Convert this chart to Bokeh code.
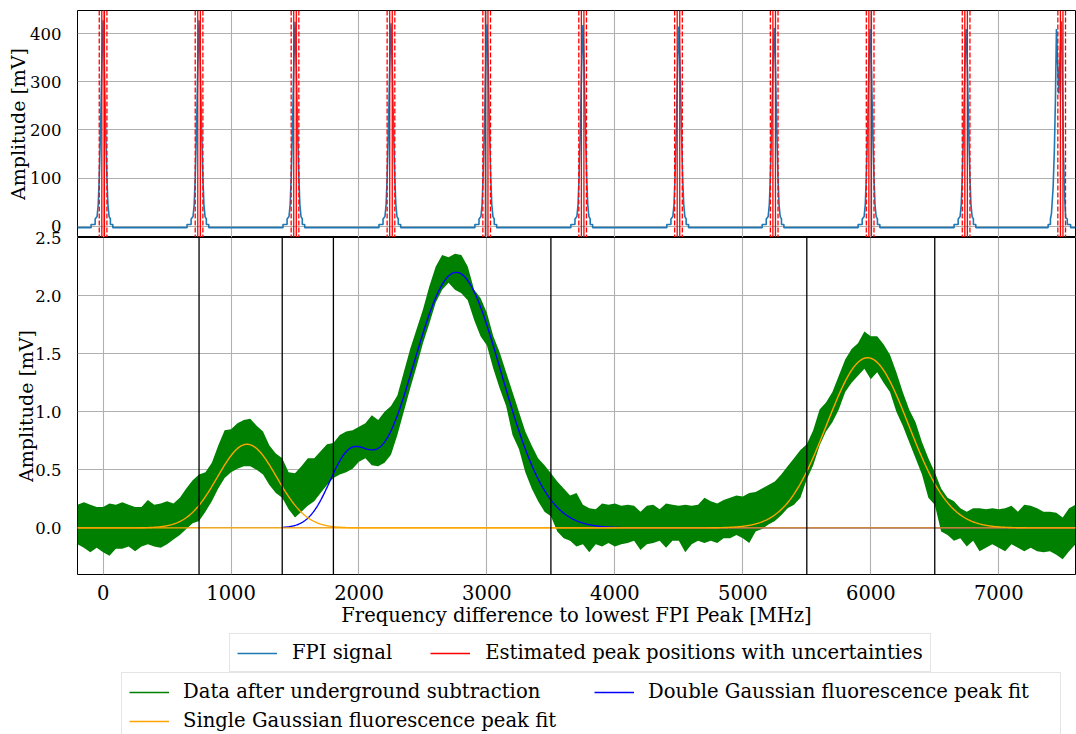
import numpy as np
from bokeh.plotting import figure
from bokeh.models import (Range1d, FixedTicker, Span, Legend, LegendItem,
                          PrintfTickFormatter)
from bokeh.layouts import column
from bokeh.embed import file_html
from bokeh.resources import INLINE

# ---------------- data ----------------
x_ticks = [0, 1000, 2000, 3000, 4000, 5000, 6000, 7000]
top_y_ticks = [0, 100, 200, 300, 400]
bottom_y_ticks = [0.0, 0.5, 1.0, 1.5, 2.0, 2.5]

# FPI signal (top panel)
fpi_baseline = -3.0
fpi_centers = [0, 750, 1500, 2250, 3000, 3750, 4500, 5245, 5995, 6745]
fpi_heights = [428, 428, 425, 422, 420, 418, 415, 412, 410, 410]
profile_offsets = [-94, -94, -62, -62, -47, -38, -30, -20, -10, 0,
                   10, 20, 30, 38, 47, 57, 57, 76, 76]
profile_left = [-3, 3.5, 3.5, 15, 20, 45, 100, 200, 330]
profile_right = [330, 200, 100, 45, 20, 15, 3.5, 3.5, -3]
last_center = 7470
last_offsets = [-84, -84, -66, -66, -58, -45, -35, -27, -19, -10, 0, 10, 20,
                28, 36, 45, 53, 66, 66, 92, 92]
last_values = [-3, 3.5, 3.5, 15, 26, 80, 160, 261, 410, 340, 276, 360, 426,
               300, 150, 60, 18, 15, 3.5, 3.5, -3]

# estimated peak positions (red lines)
peak_positions = [0, 750, 1500, 2250, 2998, 3748, 4497, 5245, 5995, 6745, 7492]
peak_inner = 10
peak_uncertainty = 30

# data after background subtraction (band)
data_freq = list(range(-200, 7601, 50))
data_upper = [
    0.20, 0.22, 0.20, 0.18, 0.18, 0.21, 0.20, 0.22, 0.20, 0.18,   # -200..250
    0.18, 0.24, 0.20, 0.21, 0.23, 0.21, 0.26, 0.34, 0.41, 0.46,   # 300..750
    0.48, 0.56, 0.71, 0.84, 0.85, 0.90, 0.93, 0.94, 0.88, 0.83,   # 800..1250
    0.71, 0.64, 0.60, 0.48, 0.47, 0.53, 0.60, 0.60, 0.66, 0.72,   # 1300..1750
    0.73, 0.80, 0.83, 0.84, 0.87, 0.90, 0.97, 0.93, 1.00, 1.05,   # 1800..2250
    1.14, 1.34, 1.54, 1.71, 1.88, 2.08, 2.25, 2.35, 2.33, 2.36,   # 2300..2750
    2.35, 2.25, 2.05, 1.98, 1.85, 1.65, 1.51, 1.34, 1.17, 1.00,   # 2800..3250
    0.83, 0.71, 0.60, 0.54, 0.47, 0.40, 0.34, 0.28, 0.30, 0.20,   # 3300..3750
    0.17, 0.16, 0.21, 0.20, 0.21, 0.19, 0.20, 0.19, 0.14, 0.19,   # 3800..4250
    0.20, 0.16, 0.21, 0.20, 0.19, 0.20, 0.19, 0.20, 0.26, 0.23,   # 4300..4750
    0.21, 0.24, 0.26, 0.28, 0.27, 0.30, 0.31, 0.34, 0.37, 0.40,   # 4800..5250
    0.46, 0.53, 0.60, 0.67, 0.72, 0.84, 1.02, 1.08, 1.17, 1.31,   # 5300..5750
    1.45, 1.54, 1.59, 1.69, 1.65, 1.65, 1.58, 1.49, 1.34, 1.17,   # 5800..6250
    1.02, 0.91, 0.74, 0.60, 0.48, 0.34, 0.26, 0.23, 0.17, 0.14,   # 6300..6750
    0.17, 0.17, 0.16, 0.17, 0.16, 0.17, 0.19, 0.14, 0.20, 0.19,   # 6800..7250
    0.17, 0.14, 0.14, 0.13, 0.09, 0.17, 0.20,                     # 7300..7600
]
data_lower = [
    -0.14, -0.17, -0.21, -0.17, -0.21, -0.24, -0.18, -0.18, -0.16, -0.20,
    -0.16, -0.14, -0.16, -0.17, -0.14, -0.10, -0.06, -0.01, 0.04, 0.06,
    0.14, 0.23, 0.34, 0.43, 0.48, 0.51, 0.53, 0.53, 0.50, 0.46,
    0.37, 0.30, 0.26, 0.16, 0.09, 0.14, 0.19, 0.23, 0.30, 0.37,
    0.43, 0.46, 0.48, 0.51, 0.57, 0.60, 0.54, 0.53, 0.56, 0.63,
    0.80, 1.00, 1.20, 1.39, 1.59, 1.76, 1.94, 2.05, 2.11, 2.05,
    2.02, 1.96, 1.79, 1.65, 1.57, 1.37, 1.20, 1.05, 0.80, 0.68,
    0.48, 0.34, 0.23, 0.14, 0.10, -0.03, -0.09, -0.11, -0.16, -0.14,
    -0.21, -0.14, -0.16, -0.13, -0.16, -0.14, -0.13, -0.11, -0.19, -0.14,
    -0.13, -0.11, -0.17, -0.11, -0.11, -0.21, -0.14, -0.11, -0.13, -0.11,
    -0.13, -0.09, -0.09, -0.06, -0.09, -0.13, -0.03, -0.01, 0.03, 0.06,
    0.11, 0.17, 0.20, 0.26, 0.42, 0.54, 0.71, 0.83, 0.91, 1.02,
    1.17, 1.25, 1.31, 1.37, 1.28, 1.34, 1.25, 1.17, 1.00, 0.88,
    0.74, 0.60, 0.46, 0.26, 0.20, -0.03, -0.06, -0.11, -0.09, -0.16,
    -0.11, -0.20, -0.17, -0.14, -0.17, -0.20, -0.14, -0.17, -0.20, -0.17,
    -0.20, -0.21, -0.20, -0.23, -0.27, -0.20, -0.14,
]

# fit parameters
single_fit_centers = [1125, 5975]
single_fit_amplitudes = [0.72, 1.465]
single_fit_sigmas = [232, 320]
double_fit_centers = [1920, 2760]
double_fit_amplitudes = [0.55, 2.2]
double_fit_sigmas = [160, 352]
double_fit_start = 1400

# boundaries of the fit regions (black lines)
region_bounds = [750, 1400, 1800, 3500, 5500, 6500]

x_min, x_max = -200, 7600
top_y_range = (-23.5, 448.4)
bottom_y_range = (-0.401, 2.5)

# ---------------- derived series ----------------
fpi_x = [x_min]
fpi_y = [fpi_baseline]
for c, h in zip(fpi_centers, fpi_heights):
    vals = profile_left + [h] + profile_right
    for off, v in zip(profile_offsets, vals):
        fpi_x.append(c + off)
        fpi_y.append(v)
for off, v in zip(last_offsets, last_values):
    fpi_x.append(last_center + off)
    fpi_y.append(v)
fpi_x.append(x_max)
fpi_y.append(fpi_baseline)

fit_x = np.linspace(x_min, x_max, 1600)


def gauss(x, a, c, s):
    return a * np.exp(-((x - c) ** 2) / (2.0 * s ** 2))


single_fits = [gauss(fit_x, a, c, s) for a, c, s in
               zip(single_fit_amplitudes, single_fit_centers, single_fit_sigmas)]
dbl_x = fit_x[fit_x >= double_fit_start]
dbl_y = sum(gauss(dbl_x, a, c, s) for a, c, s in
            zip(double_fit_amplitudes, double_fit_centers, double_fit_sigmas))

# ---------------- styling ----------------
FONT = "DejaVu Serif"
GRID = "#b0b0b0"
W = 1076
LEFT = 77
RIGHT = 1
OVER = 12

x_range = Range1d(x_min, x_max)


def style(p, yticks):
    p.outline_line_color = "black"
    p.outline_line_width = 1
    p.xgrid.ticker = FixedTicker(ticks=x_ticks)
    p.ygrid.ticker = FixedTicker(ticks=yticks)
    p.grid.grid_line_color = GRID
    p.grid.grid_line_width = 1.1
    p.yaxis.ticker = FixedTicker(ticks=yticks)
    p.yaxis.axis_line_color = None
    p.yaxis.major_tick_line_color = None
    p.yaxis.minor_tick_line_color = None
    p.yaxis.major_label_text_font = FONT
    p.yaxis.major_label_text_font_size = "16.5px"
    p.yaxis.major_label_text_color = "black"
    p.yaxis.major_label_standoff = 10
    p.yaxis.axis_label = "Amplitude [mV]"
    p.yaxis.axis_label_text_font = FONT
    p.yaxis.axis_label_text_font_size = "19px"
    p.yaxis.axis_label_text_font_style = "normal"
    p.yaxis.axis_label_text_color = "black"


# ---- top panel ----
top = figure(width=W, height=237, x_range=x_range,
             y_range=Range1d(*top_y_range), output_backend="svg",
             toolbar_location=None, min_border_left=LEFT,
             min_border_right=RIGHT, min_border_top=10, min_border_bottom=0)
style(top, top_y_ticks)
top.xaxis.visible = False
top.yaxis.axis_label_standoff = -2
r_fpi = top.line(fpi_x, fpi_y, line_color="#1f77b4", line_width=1.6)
for pos in peak_positions:
    for off in (-peak_inner, peak_inner):
        top.add_layout(Span(location=pos + off, dimension="height",
                            line_color="red", line_width=1.3))
    for off in (-peak_uncertainty, peak_uncertainty):
        top.add_layout(Span(location=pos + off, dimension="height",
                            line_color="red", line_width=1.3,
                            line_dash="5 2"))

# ---- bottom panel ----
bot = figure(width=W, height=392 + OVER, x_range=x_range,
             y_range=Range1d(*bottom_y_range), output_backend="svg",
             toolbar_location=None, min_border_left=LEFT,
             min_border_right=RIGHT, min_border_top=OVER, min_border_bottom=52,
             margin=(-OVER, 0, 0, 0))
bot.border_fill_color = None
style(bot, bottom_y_ticks)
bot.yaxis.formatter = PrintfTickFormatter(format="%.1f")
bot.yaxis.axis_label_standoff = -5
bot.xaxis.ticker = FixedTicker(ticks=x_ticks)
bot.xaxis.axis_line_color = None
bot.xaxis.major_tick_line_color = None
bot.xaxis.minor_tick_line_color = None
bot.xaxis.major_label_text_font = FONT
bot.xaxis.major_label_text_font_size = "19.5px"
bot.xaxis.major_label_text_color = "black"
bot.xaxis.major_label_standoff = 4
bot.xaxis.axis_label = "Frequency difference to lowest FPI Peak [MHz]"
bot.xaxis.axis_label_text_font = FONT
bot.xaxis.axis_label_text_font_size = "19.5px"
bot.xaxis.axis_label_text_font_style = "normal"
bot.xaxis.axis_label_text_color = "black"
bot.xaxis.axis_label_standoff = 1

bot.varea(x=data_freq, y1=data_lower, y2=data_upper, fill_color="green")
bot.line(dbl_x, dbl_y, line_color="blue", line_width=1.4)
for yv in single_fits:
    bot.line(fit_x, yv, line_color="orange", line_width=1.4)
for b in region_bounds:
    bot.add_layout(Span(location=b, dimension="height", line_color="black",
                        line_width=1.3))

# ---- legends ----
leg = figure(width=W, height=105, x_range=Range1d(0, 1), y_range=Range1d(0, 1),
             output_backend="svg", toolbar_location=None,
             x_axis_location=None, y_axis_location=None, min_border=0)
leg.outline_line_color = None
leg.grid.visible = False
nan = [float("nan")]
l_fpi = leg.line(nan, nan, line_color="#1f77b4", line_width=1.5)
l_red = leg.line(nan, nan, line_color="red", line_width=1.5)
l_data = leg.line(nan, nan, line_color="green", line_width=1.5)
l_single = leg.line(nan, nan, line_color="orange", line_width=1.5)
l_double = leg.line(nan, nan, line_color="blue", line_width=1.5)


def style_legend(lg):
    lg.label_text_font = FONT
    lg.label_text_font_size = "19.6px"
    lg.label_text_color = "black"
    lg.glyph_width = 40
    lg.glyph_height = 20
    lg.label_height = 22
    lg.margin = 0
    lg.border_line_color = "#cccccc"
    lg.border_line_width = 1
    lg.background_fill_alpha = 0.8


lg1 = Legend(items=[LegendItem(label="FPI signal", renderers=[l_fpi]),
                    LegendItem(label="Estimated peak positions with uncertainties",
                               renderers=[l_red])],
             orientation="horizontal", location=(152, 62))
style_legend(lg1)
lg1.padding = 7
lg1.spacing = 38
lg1.label_standoff = 15
leg.add_layout(lg1)

lg2 = Legend(items=[LegendItem(label="Data after underground subtraction", renderers=[l_data]),
                    LegendItem(label="Single Gaussian fluorescence peak fit", renderers=[l_single]),
                    LegendItem(label="Double Gaussian fluorescence peak fit", renderers=[l_double])],
             orientation="vertical", nrows=2, location=(44, -6))
style_legend(lg2)
lg2.padding = 7
lg2.spacing = 6
lg2.label_standoff = 14
lg2.label_width = 405
leg.add_layout(lg2)

layout = column(top, bot, leg, spacing=0)
open("out.html", "w").write(file_html(layout, INLINE))
